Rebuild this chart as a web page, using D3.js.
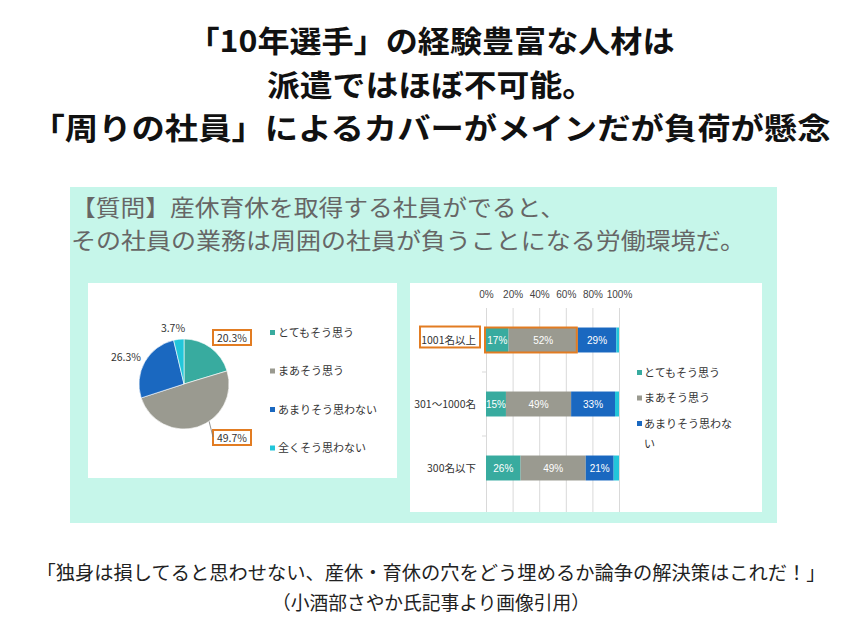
<!DOCTYPE html>
<html>
<head>
<meta charset="utf-8">
<script src="https://cdn.jsdelivr.net/npm/d3@7"></script>
<style>
  body { margin: 0; background: #fff; }
  svg { display: block; font-family: "Noto Sans CJK JP", "Noto Sans", sans-serif; }
</style>
</head>
<body>
<svg width="862" height="636"></svg>
<script>
const titleLines = ["「10年選手」の経験豊富な人材は", "派遣ではほぼ不可能。", "「周りの社員」によるカバーがメインだが負荷が懸念"];
const questionLines = ["【質問】産休育休を取得する社員がでると、", "その社員の業務は周囲の社員が負うことになる労働環境だ。"];
const footerLines = ["「独身は損してると思わせない、産休・育休の穴をどう埋めるか論争の解決策はこれだ！」", "（小酒部さやか氏記事より画像引用）"];

// 回答の選択肢
const answers = ["とてもそう思う", "まあそう思う", "あまりそう思わない", "全くそう思わない"];
const colors = ["#38ab9f", "#9a9a90", "#1a68c0", "#22c6da"];

// 全体（円グラフ）
const pieValues = [20.3, 49.7, 26.3, 3.7];

// 規模別（帯グラフ）
const companySizes = ["1001名以上", "301〜1000名", "300名以下"];
const veryMuch = [17, 15, 26];
const somewhat = [52, 49, 49];
const notReally = [29, 33, 21];
const notAtAll = [2, 3, 4];
const xTicks = [0, 20, 40, 60, 80, 100];

const svg = d3.select("svg");
const orange = "#e27c22";

// === タイトル ===
const titleWidths = [487, 328, 799];
svg.selectAll("text.title")
  .data(titleLines)
  .enter()
  .append("text")
  .attr("class", "title")
  .attr("x", 431)
  .attr("y", (d, i) => 52 + i * 43.5)
  .attr("text-anchor", "middle")
  .attr("font-size", "30px")
  .attr("font-weight", "bold")
  .attr("fill", "#111")
  .attr("textLength", (d, i) => titleWidths[i])
  .attr("lengthAdjust", "spacingAndGlyphs")
  .text(d => d);

// === パネル背景 ===
svg.append("rect")
  .attr("x", 70).attr("y", 187)
  .attr("width", 707).attr("height", 336)
  .attr("fill", "#c6f6ea");

const questionWidths = [494, 674];
svg.selectAll("text.question")
  .data(questionLines)
  .enter()
  .append("text")
  .attr("class", "question")
  .attr("x", 71)
  .attr("y", (d, i) => 216 + i * 33)
  .attr("font-size", "22.5px")
  .attr("fill", "#666")
  .attr("textLength", (d, i) => questionWidths[i])
  .attr("lengthAdjust", "spacingAndGlyphs")
  .text(d => d);

svg.append("rect")
  .attr("x", 88).attr("y", 283)
  .attr("width", 309).attr("height", 195)
  .attr("fill", "#fff");

svg.append("rect")
  .attr("x", 410).attr("y", 283)
  .attr("width", 352).attr("height", 229)
  .attr("fill", "#fff");

// === 円グラフ ===
const pieData = answers.map((a, i) => ({ answer: a, value: pieValues[i] }));
const radius = 45;
const pie = d3.pie().sort(null).value(d => d.value);
const arc = d3.arc().innerRadius(0).outerRadius(radius);

const gPie = svg.append("g").attr("transform", "translate(184,384)");
gPie.selectAll("path")
  .data(pie(pieData))
  .enter()
  .append("path")
  .attr("d", arc)
  .attr("fill", (d, i) => colors[i])
  .attr("stroke", "#fff")
  .attr("stroke-width", 0.6);

// ラベル位置（中心からのずれ）
const pieLabelPos = [[48, -46], [48, 54], [-58, -27], [-11, -56]];
const pieLabels = gPie.selectAll("g.plabel")
  .data(pie(pieData))
  .enter()
  .append("g")
  .attr("class", "plabel")
  .attr("transform", (d, i) => `translate(${pieLabelPos[i]})`);

// 強調枠
pieLabels.filter((d, i) => i < 2)
  .append("rect")
  .attr("x", -19).attr("y", -8)
  .attr("width", 38).attr("height", 15)
  .attr("fill", "#fff")
  .attr("stroke", orange)
  .attr("stroke-width", 2);

pieLabels.append("text")
  .attr("text-anchor", "middle")
  .attr("dy", "0.35em")
  .attr("font-size", "10.5px")
  .attr("fill", "#333")
  .text(d => d.data.value.toFixed(1) + "%");

// 49.7% の引き出し線
const grey = pie(pieData)[1];
const edge = d3.arc().innerRadius(radius).outerRadius(radius).centroid({ ...grey, startAngle: 2.55, endAngle: 2.55 });
gPie.append("polyline")
  .attr("points", [edge, [29, 53]])
  .attr("fill", "none")
  .attr("stroke", "#777")
  .attr("stroke-width", 0.8);

// 凡例（左）
const legL = svg.append("g").attr("transform", "translate(270,333)");
const legLRows = legL.selectAll("g")
  .data(answers)
  .enter()
  .append("g")
  .attr("transform", (d, i) => `translate(0,${i * 38.5})`);
legLRows.append("rect")
  .attr("x", 0).attr("y", -3)
  .attr("width", 5).attr("height", 5)
  .attr("fill", (d, i) => colors[i]);
legLRows.append("text")
  .attr("x", 8)
  .attr("dy", "0.35em")
  .attr("font-size", "11px")
  .attr("fill", "#333")
  .text(d => d);

// === 帯グラフ ===
const x = d3.scaleLinear().domain([0, 100]).range([486, 619]);
const y = d3.scaleBand().domain(companySizes).range([308, 500]).paddingInner(0.61).paddingOuter(0.305);

const barRows = companySizes.map((c, i) => ({
  size: c,
  [answers[0]]: veryMuch[i],
  [answers[1]]: somewhat[i],
  [answers[2]]: notReally[i],
  [answers[3]]: notAtAll[i]
}));
const stacked = d3.stack().keys(answers)(barRows);

// グリッド
svg.append("g")
  .attr("transform", "translate(0,308)")
  .call(d3.axisBottom(x).tickValues(xTicks).tickSize(204).tickFormat(""))
  .call(g => g.select(".domain").remove())
  .selectAll("line")
  .attr("stroke", "#d9d9d9");

// 上の目盛
svg.append("g")
  .attr("transform", "translate(0,301)")
  .call(d3.axisTop(x).tickValues(xTicks).tickSize(0).tickFormat(d => d + "%"))
  .call(g => g.select(".domain").remove())
  .selectAll("text")
  .attr("font-size", "10px")
  .attr("font-family", "Liberation Sans, sans-serif")
  .attr("fill", "#444");

// カテゴリ境界の小さな目盛
svg.append("g")
  .selectAll("line")
  .data(companySizes.slice(1))
  .enter()
  .append("line")
  .attr("x1", 482).attr("x2", 486)
  .attr("y1", d => y(d) - y.step() * y.paddingInner() / 2)
  .attr("y2", d => y(d) - y.step() * y.paddingInner() / 2)
  .attr("stroke", "#d9d9d9");

const gBars = svg.append("g");
const layers = gBars.selectAll("g.layer")
  .data(stacked)
  .enter()
  .append("g")
  .attr("class", "layer")
  .attr("fill", (d, i) => colors[i]);

layers.selectAll("rect")
  .data(d => d)
  .enter()
  .append("rect")
  .attr("x", d => x(d[0]))
  .attr("y", d => y(d.data.size))
  .attr("width", d => x(d[1]) - x(d[0]))
  .attr("height", y.bandwidth());

layers.filter((d, i) => i < 3)
  .selectAll("text")
  .data(d => d)
  .enter()
  .append("text")
  .attr("x", d => (x(d[0]) + x(d[1])) / 2)
  .attr("y", d => y(d.data.size) + y.bandwidth() / 2)
  .attr("dy", "0.35em")
  .attr("text-anchor", "middle")
  .attr("font-size", "10px")
  .attr("font-family", "Liberation Sans, sans-serif")
  .attr("fill", "#fff")
  .text(d => (d[1] - d[0]) + "%");

// カテゴリ名
svg.append("g")
  .selectAll("text")
  .data(companySizes)
  .enter()
  .append("text")
  .attr("x", 476)
  .attr("y", d => y(d) + y.bandwidth() / 2)
  .attr("dy", "0.35em")
  .attr("text-anchor", "end")
  .attr("font-size", "10.5px")
  .attr("fill", "#333")
  .text(d => d);

// 強調枠（1001名以上）
svg.append("rect")
  .attr("x", 420).attr("y", y(companySizes[0]) - 1)
  .attr("width", 60).attr("height", y.bandwidth() - 4)
  .attr("fill", "none")
  .attr("stroke", orange)
  .attr("stroke-width", 2);

svg.append("rect")
  .attr("x", x(0) - 1).attr("y", y(companySizes[0]))
  .attr("width", x(veryMuch[0] + somewhat[0]) - x(0)).attr("height", y.bandwidth())
  .attr("fill", "none")
  .attr("stroke", orange)
  .attr("stroke-width", 2);

// 凡例（右）
const legendRight = ["とてもそう思う", "まあそう思う", "あまりそう思わな"];
const legR = svg.append("g").attr("transform", "translate(637,373)");
const legRRows = legR.selectAll("g")
  .data(legendRight)
  .enter()
  .append("g")
  .attr("transform", (d, i) => `translate(0,${i * 25.5})`);
legRRows.append("rect")
  .attr("x", 0).attr("y", -3)
  .attr("width", 5).attr("height", 5)
  .attr("fill", (d, i) => colors[i]);
legRRows.append("text")
  .attr("x", 7)
  .attr("dy", "0.35em")
  .attr("font-size", "11px")
  .attr("fill", "#333")
  .text(d => d);
legR.append("text")
  .attr("x", 7).attr("y", 71)
  .attr("dy", "0.35em")
  .attr("font-size", "11px")
  .attr("fill", "#333")
  .text("い");

// === 出典 ===
const footerWidths = [789, 318];
svg.selectAll("text.footer")
  .data(footerLines)
  .enter()
  .append("text")
  .attr("class", "footer")
  .attr("x", 431)
  .attr("y", (d, i) => 580 + i * 30)
  .attr("text-anchor", "middle")
  .attr("font-size", "19px")
  .attr("fill", "#222")
  .attr("textLength", (d, i) => footerWidths[i])
  .attr("lengthAdjust", "spacingAndGlyphs")
  .text(d => d);
</script>
</body>
</html>
